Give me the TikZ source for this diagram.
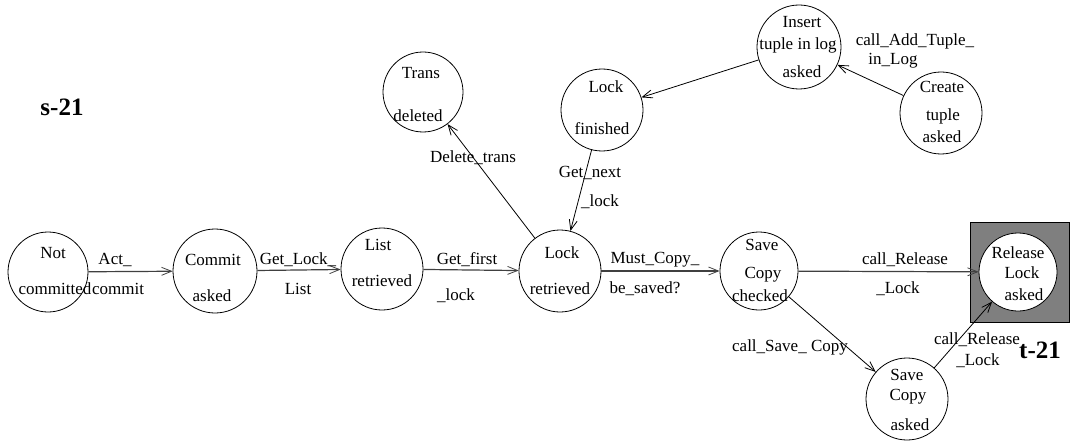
\documentclass[tikz,border=0pt]{standalone}
\usepackage{fontspec}
\setmainfont{Liberation Serif}
\usetikzlibrary{arrows.meta}
\definecolor{boxgray}{HTML}{7F7F7F}
\tikzset{
  state/.style={circle,draw,line width=0.8pt,fill=white,inner sep=0pt,minimum size=#1},
  txt/.style={inner sep=0pt,font=\fontsize{17}{18}\selectfont},
  lbl/.style={inner sep=0pt,font=\fontsize{17}{18}\selectfont},
  big/.style={inner sep=0pt,font=\fontsize{25}{28}\selectfont\bfseries},
  edge/.style={line width=0.8pt,-{Straight Barb[length=10pt,width=8pt,line width=0.8pt]}},
  hedge/.style={edge,draw=black!75,line width=1.2pt}
}
\begin{document}
\begin{tikzpicture}[x=1pt,y=-1pt]
\useasboundingbox (0,0) rectangle (1073,441);
% gray box
\node[draw,fill=boxgray,line width=0.8pt,minimum width=99pt,minimum height=100pt,inner sep=0pt] (box) at (1019.5,272) {};
% states
\node[state=80pt] (notc) at (48,272) {};
\node[state=84pt] (commit) at (215,271) {};
\node[state=82pt] (list) at (382,269) {};
\node[state=82pt] (lockr) at (560,271) {};
\node[state=78pt] (savec) at (759,271) {};
\node[state=78pt] (rel) at (1018,272) {};
\node[state=82pt] (savea) at (907,399) {};
\node[state=80pt] (trans) at (423,92) {};
\node[state=82pt] (lockf) at (602,110) {};
\node[state=84pt] (ins) at (799,47) {};
\node[state=82pt] (create) at (941,113) {};
% state texts
\node[txt] (t1a) at (53,253) {Not};
\node[txt] (t1b) at (55,289) {committed};
\node[txt] (t2a) at (213,260) {Commit};
\node[txt] (t2b) at (212,296) {asked};
\node[txt] (t3a) at (378,245) {List};
\node[txt] (t3b) at (382,281) {retrieved};
\node[txt] (t4a) at (562,253) {Lock};
\node[txt] (t4b) at (560,289) {retrieved};
\node[txt] (t5a) at (762,245) {Save};
\node[txt] (t5b) at (763,275) {Copy};
\node[txt] (t5c) at (760,296) {checked};
\node[txt] (t6a) at (1018,253) {Release};
\node[txt] (t6b) at (1022,273) {Lock};
\node[txt] (t6c) at (1024,295) {asked};
\node[txt] (t7a) at (907,375) {Save};
\node[txt] (t7b) at (908,397) {Copy};
\node[txt] (t7c) at (910,425) {asked};
\node[txt] (t8a) at (421,73) {Trans};
\node[txt] (t8b) at (418,116) {deleted};
\node[txt] (t9a) at (606,87) {Lock};
\node[txt] (t9b) at (602,129) {finished};
\node[txt] (t10a) at (802,22) {Insert};
\node[txt] (t10b) at (798,45) {tuple in log};
\node[txt] (t10c) at (802,72) {asked};
\node[txt] (t11a) at (942,87) {Create};
\node[txt] (t11b) at (943,116) {tuple};
\node[txt] (t11c) at (942,137) {asked};
% corner labels
\node[big] (s21) at (62,107) {s-21};
\node[big] (t21) at (1040,350) {t-21};
% edges
\draw[hedge] (notc) -- (commit);
\draw[hedge] (commit) -- (list);
\draw[hedge] (list) -- (lockr);
\draw[hedge] (lockr) -- (savec);
\draw[hedge] (savec) -- (rel);
\draw[edge] (savec) -- (savea);
\draw[edge] (savea) -- (rel);
\draw[edge] (lockr) -- (trans);
\draw[edge] (lockf) -- (lockr);
\draw[edge] (ins) -- (lockf);
\draw[edge] (create) -- (ins);
% edge labels
\node[lbl] (l1a) at (115,260) {Act\_};
\node[lbl] (l1b) at (118,289) {commit};
\node[lbl] (l2a) at (298,260) {Get\_Lock\_};
\node[lbl] (l2b) at (298,289) {List};
\node[lbl] (l3a) at (467,260) {Get\_first};
\node[lbl] (l3b) at (456,296) {\_lock};
\node[lbl] (l4a) at (655,260) {Must\_Copy\_};
\node[lbl] (l4b) at (645,289) {be\_saved?};
\node[lbl] (l5a) at (905,260) {call\_Release};
\node[lbl] (l5b) at (898,289) {\_Lock};
\node[lbl] (l6) at (790,347) {call\_Save\_ Copy};
\node[lbl] (l7a) at (977,340) {call\_Release};
\node[lbl] (l7b) at (978,361) {\_Lock};
\node[lbl] (l8) at (473,158) {Delete\_trans};
\node[lbl] (l9a) at (590,173) {Get\_next};
\node[lbl] (l9b) at (600,202) {\_lock};
\node[lbl] (l10a) at (915,41) {call\_Add\_Tuple\_};
\node[lbl] (l10b) at (893,61) {in\_Log};
\end{tikzpicture}
\end{document}
